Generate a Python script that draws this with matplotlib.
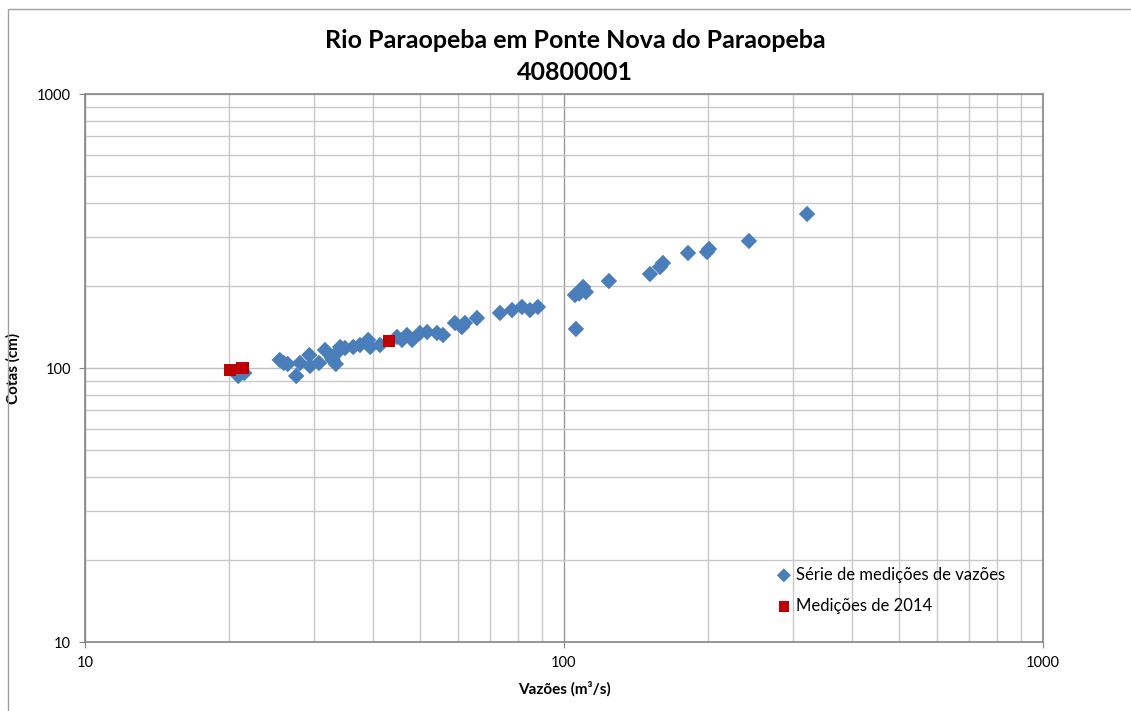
import matplotlib.pyplot as plt
from matplotlib.patches import Rectangle
from matplotlib.ticker import LogLocator, NullFormatter, FixedFormatter, FixedLocator

# Série de medições de vazões (vazão m3/s, cota cm)
vazoes = [20.9, 21.5, 25.5, 26.0, 26.5, 27.6, 28.1, 29.4, 29.5, 30.8,
          31.7, 32.9, 32.8, 33.7, 33.4, 34.9, 34.1, 36.3, 37.5, 39.0,
          39.4, 41.3, 44.8, 45.9, 47.0, 48.2, 50.0, 51.8, 54.3, 55.9,
          59.2, 61.2, 62.1, 65.8, 73.5, 77.9, 81.7, 84.9, 88.2, 105.9,
          105.4, 109.6, 111.1, 107.5, 124.1, 151.2, 158.7, 160.9, 181.5, 198.9,
          200.8, 243.3, 321.7]
cotas = [93.5, 95.9, 107.0, 104.3, 103.4, 93.5, 104.3, 111.5, 101.7, 104.3,
         116.3, 107.0, 108.8, 114.4, 103.4, 118.3, 119.3, 119.3, 121.3, 126.6,
         119.3, 121.3, 129.8, 126.6, 131.9, 126.6, 134.2, 135.3, 134.2, 131.9,
         146.0, 141.1, 146.0, 152.2, 158.8, 162.8, 167.0, 162.8, 167.0, 138.8,
         184.7, 197.5, 189.4, 187.0, 207.7, 220.3, 233.7, 241.7, 262.9, 265.1,
         271.9, 290.8, 364.8]

# Medições de 2014
vazoes_2014 = [20.1, 21.3, 43.1]
cotas_2014 = [98.3, 100.0, 125.5]

fig = plt.figure(figsize=(11.31, 7.11), dpi=100)
plt.rcParams['font.family'] = ['Lato', 'DejaVu Sans']

# moldura do gráfico
fig.patches.append(Rectangle((8 / 1131, -0.1), 1.2, 1.1 - 9 / 711, transform=fig.transFigure,
                             fill=False, edgecolor='#a0a0a0', linewidth=1.0))

ax = fig.add_axes([85 / 1131, 1 - 642 / 711, (1043 - 85) / 1131, (642 - 94) / 711])
ax.set_xscale('log')
ax.set_yscale('log')
ax.set_xlim(10, 1000)
ax.set_ylim(10, 1000)

ax.scatter(vazoes, cotas, marker='D', s=70, color='#4a7ebb', edgecolors='none',
           label='Série de medições de vazões', zorder=3)
ax.scatter(vazoes_2014, cotas_2014, marker='s', s=80, color='#c00000', edgecolors='none',
           label='Medições de 2014', zorder=4)

ax.xaxis.set_major_locator(FixedLocator([10, 100, 1000]))
ax.yaxis.set_major_locator(FixedLocator([10, 100, 1000]))
ax.xaxis.set_major_formatter(FixedFormatter(['10', '100', '1000']))
ax.yaxis.set_major_formatter(FixedFormatter(['10', '100', '1000']))
ax.xaxis.set_minor_locator(LogLocator(base=10, subs=range(2, 10)))
ax.yaxis.set_minor_locator(LogLocator(base=10, subs=range(2, 10)))
ax.xaxis.set_minor_formatter(NullFormatter())
ax.yaxis.set_minor_formatter(NullFormatter())

ax.xaxis.grid(True, which='major', color='#9a9a9a', linewidth=1.0)
ax.yaxis.grid(True, which='major', color='#c0c0c0', linewidth=1.0)
ax.grid(which='minor', color='#c8c8c8', linewidth=1.0)
ax.set_axisbelow(True)
ax.tick_params(which='major', direction='out', length=4, color='#868686',
               labelsize=10.5, pad=6)
ax.tick_params(which='minor', length=0)
for s in ax.spines.values():
    s.set_color('#868686')
    s.set_linewidth(1.2)

ax.set_xlabel('Vazões (m³/s)', fontsize=11, fontweight='bold', labelpad=8)
ax.set_ylabel('Cotas (cm)', fontsize=11, fontweight='bold', labelpad=12)

fig.text(575 / 1131, 1 - 40 / 711, 'Rio Paraopeba em Ponte Nova do Paraopeba',
         ha='center', va='center', fontsize=18, fontweight='bold')
fig.text(575 / 1131, 1 - 72 / 711, '40800001',
         ha='center', va='center', fontsize=18, fontweight='bold')

ax.legend(loc='lower right', bbox_to_anchor=(1 - 10 / 958, 0.0), frameon=False, fontsize=12,
          handlelength=1.0, handletextpad=0.2, labelspacing=0.9, borderaxespad=1.3,
          markerscale=0.85)

fig.savefig('out.png', dpi=100)
